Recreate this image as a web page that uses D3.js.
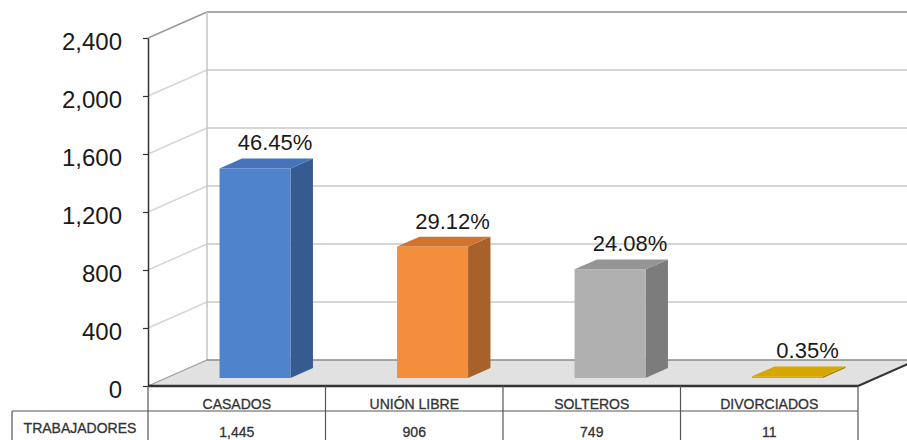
<!DOCTYPE html>
<html>
<head>
<meta charset="utf-8">
<script src="https://cdn.jsdelivr.net/npm/d3@7"></script>
<style>
  body { margin: 0; background: #fff; }
  svg { display: block; font-family: "Liberation Sans", Arial, sans-serif; }
</style>
</head>
<body>
<svg id="chart" width="907" height="440"></svg>
<script>
const categories = ["CASADOS", "UNIÓN LIBRE", "SOLTEROS", "DIVORCIADOS"];
const values = [1445, 906, 749, 11];
const seriesName = "TRABAJADORES";
const tickValues = [0, 400, 800, 1200, 1600, 2000, 2400];
const palette = [
  { front: "#4f83cc", side: "#365b91", top: "#4574ba" },
  { front: "#f38f3c", side: "#a8612a", top: "#d27430" },
  { front: "#b0b0b0", side: "#7c7c7c", top: "#959595" },
  { front: "#d6a700", side: "#a88200", top: "#d6a700" }
];

const svg = d3.select("#chart");
const X0 = 148, X1 = 858;       // front floor edge
const DX = 59, DY = 26;          // depth offset
const y = d3.scaleLinear().domain([0, 2400]).range([386, 38]);
const x = d3.scaleBand().domain(categories).range([X0, X1]).paddingInner(0).paddingOuter(0);
const total = d3.sum(values);
const pt = (px, v, f) => [px + f * DX, y(v) - f * DY];

// back wall
svg.append("rect").attr("x", X0 + DX).attr("y", y(2400) - DY)
  .attr("width", X1 - X0 + 10).attr("height", y(0) - y(2400)).attr("fill", "#fff");

// gridlines on back wall and left wall
const grid = svg.append("g");
tickValues.forEach(v => {
  if (v === 0) return;
  const isTop = v === 2400;
  grid.append("line")
    .attr("x1", X0 + DX).attr("x2", X1 + DX + 20)
    .attr("y1", y(v) - DY).attr("y2", y(v) - DY)
    .attr("stroke", isTop ? "#aaaaaa" : "#d6d6d6").attr("stroke-width", 2);
  grid.append("line")
    .attr("x1", X0).attr("y1", y(v))
    .attr("x2", X0 + DX).attr("y2", y(v) - DY)
    .attr("stroke", isTop ? "#999" : "#d6d6d6").attr("stroke-width", 1.5);
});
// back wall left edge
grid.append("line").attr("x1", X0 + DX).attr("x2", X0 + DX)
  .attr("y1", y(2400) - DY).attr("y2", y(0) - DY)
  .attr("stroke", "#c4c4c4").attr("stroke-width", 1.5);

// floor
const floorPts = [[X0, y(0)], [X1, y(0)], [X1 + DX, y(0) - DY], [X0 + DX, y(0) - DY]];
svg.append("polygon").attr("points", floorPts.map(p => p.join(",")).join(" "))
  .attr("fill", "#e1e1e1");
svg.append("line").attr("x1", X0 + DX).attr("x2", X1 + DX + 20)
  .attr("y1", y(0) - DY).attr("y2", y(0) - DY).attr("stroke", "#8a8a8a").attr("stroke-width", 1.5);
svg.append("line").attr("x1", X0).attr("y1", y(0)).attr("x2", X0 + DX).attr("y2", y(0) - DY)
  .attr("stroke", "#9a9a9a").attr("stroke-width", 1.2);
svg.append("line").attr("x1", X1).attr("y1", y(0)).attr("x2", X1 + DX).attr("y2", y(0) - DY)
  .attr("stroke", "#333").attr("stroke-width", 2);
svg.append("line").attr("x1", X0).attr("x2", X1).attr("y1", y(0)).attr("y2", y(0))
  .attr("stroke", "#333").attr("stroke-width", 2.5);

// bars
const F1 = 0.31, F2 = 0.69;
const bw = x.bandwidth() * 0.4;
const bars = svg.append("g");
categories.forEach((c, i) => {
  const v = values[i];
  const cx = x(c) + x.bandwidth() / 2;
  const L = cx - bw / 2, R = cx + bw / 2;
  const col = palette[i];
  const poly = pts => pts.map(p => p.join(",")).join(" ");
  bars.append("polygon").attr("points", poly([pt(R, v, F1), pt(R, v, F2), pt(R, 0, F2), pt(R, 0, F1)]))
    .attr("fill", col.side);
  bars.append("polygon").attr("points", poly([pt(L, v, F1), pt(R, v, F1), pt(R, 0, F1), pt(L, 0, F1)]))
    .attr("fill", col.front);
  bars.append("polygon").attr("points", poly([pt(L, v, F1), pt(R, v, F1), pt(R, v, F2), pt(L, v, F2)]))
    .attr("fill", col.top);
  const lp = pt(cx, v, F1);
  bars.append("text").attr("x", lp[0] + 20).attr("y", lp[1] - 18)
    .attr("text-anchor", "middle").attr("font-size", 22).attr("fill", "#1a1a1a")
    .text((v / total * 100).toFixed(2) + "%");
});

// y axis
const axis = d3.axisLeft(y).tickValues(tickValues).tickFormat(d3.format(","))
  .tickSize(5).tickSizeOuter(0).tickPadding(21);
const ag = svg.append("g").attr("transform", `translate(${X0},0)`).call(axis);
ag.select(".domain").attr("stroke", "#333").attr("stroke-width", 1.5);
ag.selectAll(".tick line").attr("stroke", "#333").attr("stroke-width", 1.2);
ag.selectAll(".tick text").attr("font-size", 24).attr("fill", "#1a1a1a")
  .attr("font-family", "'Liberation Sans', Arial, sans-serif").attr("dy", "0.47em");

// data table
const T0 = y(0), T1 = 411, T2 = 441, TL = 12;
const tbl = svg.append("g").attr("stroke", "#555").attr("stroke-width", 1.2);
tbl.append("line").attr("x1", TL).attr("x2", X1).attr("y1", T1).attr("y2", T1);
tbl.append("line").attr("x1", TL).attr("x2", X1).attr("y1", T2).attr("y2", T2);
tbl.append("line").attr("x1", TL).attr("x2", TL).attr("y1", T1).attr("y2", T2);
categories.forEach(c => {
  tbl.append("line").attr("x1", x(c)).attr("x2", x(c)).attr("y1", T0).attr("y2", T2);
});
tbl.append("line").attr("x1", X1).attr("x2", X1).attr("y1", T0).attr("y2", T2);

const tt = svg.append("g").attr("font-size", 14).attr("fill", "#333").attr("text-anchor", "middle")
  .attr("stroke", "#333").attr("stroke-width", 0.3);
categories.forEach((c, i) => {
  const cx = x(c) + x.bandwidth() / 2;
  tt.append("text").attr("x", cx).attr("y", 408.5).text(c);
  tt.append("text").attr("x", cx).attr("y", 437).text(d3.format(",")(values[i]));
});
tt.append("text").attr("x", (TL + X0) / 2).attr("y", 433).text(seriesName);
</script>
</body>
</html>
